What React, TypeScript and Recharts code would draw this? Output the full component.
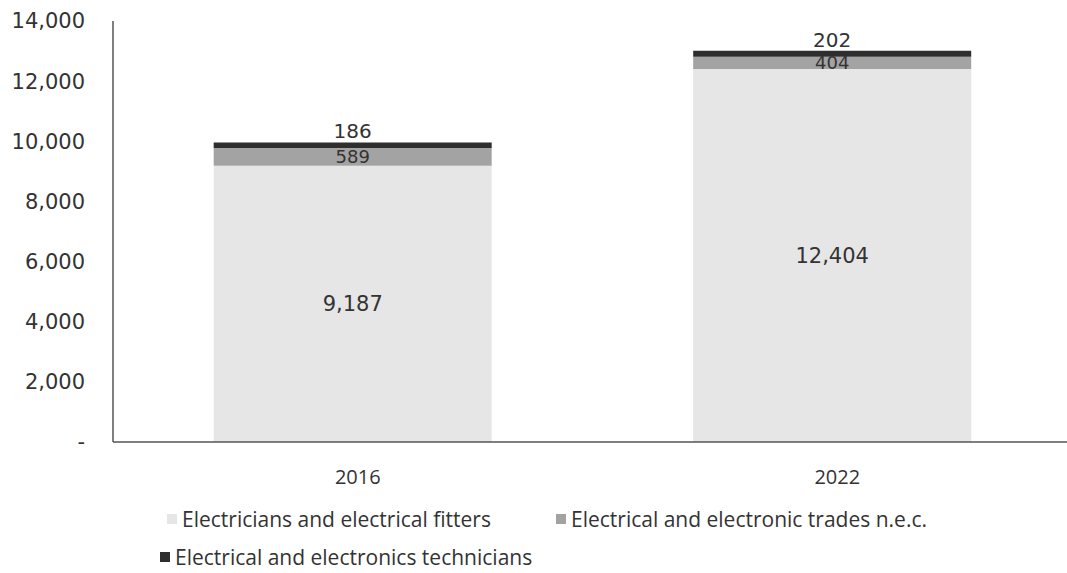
import React from "react";
import { Bar, BarChart, LabelList, Legend, XAxis, YAxis } from "recharts";

const years = ["2016", "2022"];
const fitters = [9187, 12404];
const tradesNec = [589, 404];
const technicians = [186, 202];
const yTicks = [0, 2000, 4000, 6000, 8000, 10000, 12000, 14000];

const seriesNames = [
  "Electricians and electrical fitters",
  "Electrical and electronic trades n.e.c.",
  "Electrical and electronics technicians",
];
const seriesColors = ["#e6e6e6", "#a3a3a3", "#2e2e2e"];

const data = years.map((year, i) => ({
  year,
  fitters: fitters[i],
  tradesNec: tradesNec[i],
  technicians: technicians[i],
}));

const fmt = (v: number) => (v === 0 ? "-" : v.toLocaleString("en-US"));
const numFont = "'DejaVu Sans', Verdana, sans-serif";

const LegendBox = () => {
  const item = (i: number) => (
    <span style={{ display: "inline-flex", alignItems: "center", whiteSpace: "nowrap" }}>
      <span
        style={{
          display: "inline-block",
          width: 10,
          height: 10,
          background: seriesColors[i],
          marginRight: 5,
        }}
      />
      {seriesNames[i]}
    </span>
  );
  return (
    <div
      style={{
        fontFamily: "'Open Sans', sans-serif",
        fontSize: 21,
        color: "#333",
        position: "relative",
        height: 81,
        lineHeight: "26px",
      }}
    >
      <div style={{ position: "absolute", left: 167, top: 11 }}>{item(0)}</div>
      <div style={{ position: "absolute", left: 556, top: 11 }}>{item(1)}</div>
      <div style={{ position: "absolute", left: 160, top: 49 }}>{item(2)}</div>
    </div>
  );
};

const XTick = (props: any) => {
  const { x, y, payload } = props;
  return (
    <text
      x={x + 5}
      y={y + 34}
      textAnchor="middle"
      fontFamily="'Open Sans', sans-serif"
      fontSize={20}
      fill="#333"
    >
      {payload.value}
    </text>
  );
};

export default function App() {
  return (
    <div style={{ position: "absolute", left: 0, top: 0, width: 1067, height: 573, background: "#fff", overflow: "hidden" }}>
      <BarChart
        width={1072}
        height={573}
        data={data}
        margin={{ top: 21, right: 0, left: 0, bottom: 0 }}
        barCategoryGap="21%"
      >
        <XAxis
          dataKey="year"
          height={50}
          tickLine={false}
          axisLine={{ stroke: "#555", strokeWidth: 1.5 }}
          tick={<XTick />}
        />
        <YAxis
          width={113}
          domain={[0, 14000]}
          ticks={yTicks}
          tickFormatter={fmt}
          tickLine={false}
          tickSize={0}
          tickMargin={28}
          axisLine={{ stroke: "#555", strokeWidth: 1.5 }}
          tick={{ fill: "#333", fontSize: 21, fontFamily: numFont }}
        />
        <Legend verticalAlign="bottom" height={81} content={<LegendBox />} />
        <Bar dataKey="fitters" stackId="a" fill={seriesColors[0]} isAnimationActive={false}>
          <LabelList
            dataKey="fitters"
            position="center"
            formatter={fmt}
            fill="#333"
            fontSize={21}
            fontFamily={numFont}
          />
        </Bar>
        <Bar dataKey="tradesNec" stackId="a" fill={seriesColors[1]} isAnimationActive={false}>
          <LabelList
            dataKey="tradesNec"
            position="center"
            formatter={fmt}
            fill="#333"
            fontSize={18}
            fontFamily={numFont}
          />
        </Bar>
        <Bar dataKey="technicians" stackId="a" fill={seriesColors[2]} isAnimationActive={false}>
          <LabelList
            dataKey="technicians"
            position="top"
            offset={4}
            formatter={fmt}
            fill="#333"
            fontSize={20}
            fontFamily={numFont}
          />
        </Bar>
      </BarChart>
    </div>
  );
}
